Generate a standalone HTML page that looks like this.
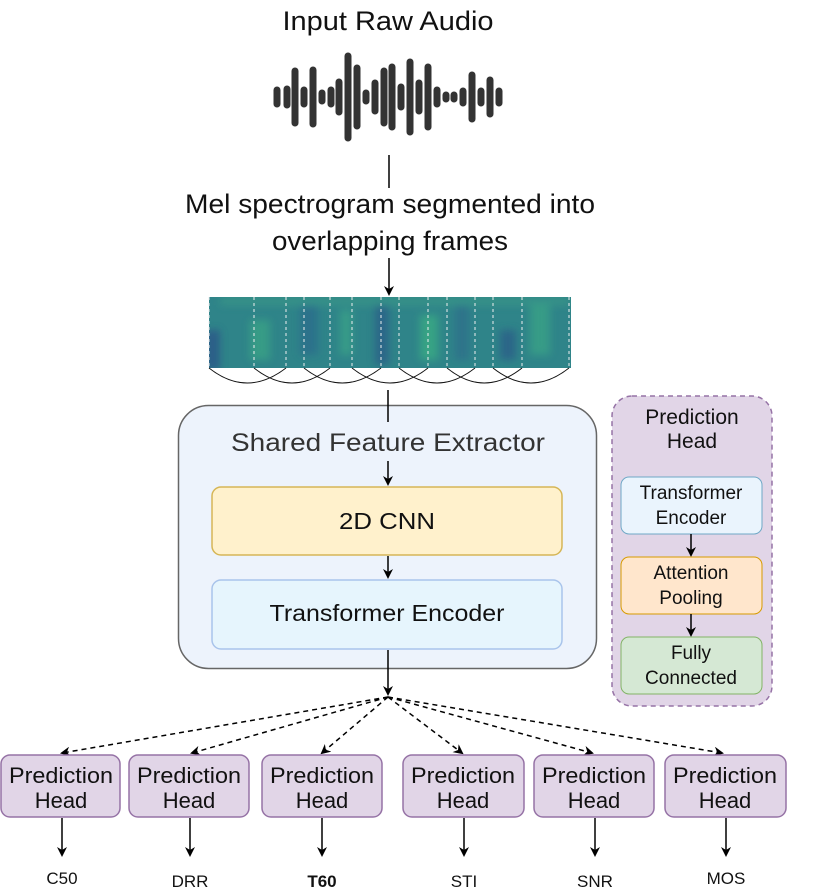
<!DOCTYPE html>
<html><head><meta charset="utf-8"><style>
html,body{margin:0;padding:0;background:#fff;}
svg{display:block;font-family:"Liberation Sans",sans-serif;}
</style></head><body>
<svg width="813" height="896" viewBox="0 0 813 896" xmlns="http://www.w3.org/2000/svg">
<defs>
<marker id="ah" markerWidth="10" markerHeight="10" refX="8" refY="5" orient="auto" markerUnits="userSpaceOnUse">
<path d="M0,0 L10,5 L0,10 L3,5 Z" fill="#000"/></marker>
<linearGradient id="sp" x1="0" y1="0" x2="0" y2="1">
<stop offset="0" stop-color="#2f8a8a"/><stop offset="0.5" stop-color="#2e7a8c"/><stop offset="1" stop-color="#319a88"/></linearGradient>
<filter id="bl"><feGaussianBlur stdDeviation="4"/></filter>
<clipPath id="sc"><rect x="209" y="297" width="362" height="71"/></clipPath>
</defs>
<text x="388" y="30" font-size="27" text-anchor="middle" textLength="211" lengthAdjust="spacingAndGlyphs" fill="#111">Input Raw Audio</text>
<g stroke="#333" stroke-linecap="round" stroke-width="7">
<line x1="277" y1="90" x2="277" y2="104"/><line x1="287" y1="89" x2="287" y2="105"/>
<line x1="295" y1="71" x2="295" y2="123"/><line x1="304" y1="90" x2="304" y2="104"/>
<line x1="313" y1="70" x2="313" y2="124"/><line x1="322" y1="93" x2="322" y2="101"/>
<line x1="331" y1="90" x2="331" y2="104"/><line x1="339" y1="82" x2="339" y2="112"/>
<line x1="348" y1="56" x2="348" y2="138"/><line x1="357" y1="68" x2="357" y2="126"/>
<line x1="366" y1="93" x2="366" y2="101"/><line x1="375" y1="83" x2="375" y2="111"/>
<line x1="384" y1="71" x2="384" y2="123"/><line x1="392" y1="67" x2="392" y2="127"/>
<line x1="401" y1="87" x2="401" y2="107"/><line x1="410" y1="62" x2="410" y2="132"/>
<line x1="419" y1="83" x2="419" y2="111"/><line x1="428" y1="67" x2="428" y2="127"/>
<line x1="437" y1="90" x2="437" y2="104"/><line x1="446" y1="95" x2="446" y2="99"/>
<line x1="454" y1="95" x2="454" y2="99"/><line x1="463" y1="91" x2="463" y2="103"/>
<line x1="472" y1="75" x2="472" y2="119"/><line x1="481" y1="91" x2="481" y2="103"/>
<line x1="490" y1="80" x2="490" y2="114"/><line x1="499" y1="91" x2="499" y2="103"/>
</g>
<line x1="389" y1="155" x2="389" y2="188" stroke="#000" stroke-width="1.5"/>
<text x="390" y="213" font-size="27" text-anchor="middle" textLength="410" lengthAdjust="spacingAndGlyphs" fill="#111">Mel spectrogram segmented into</text>
<text x="390" y="250" font-size="27" text-anchor="middle" textLength="236" lengthAdjust="spacingAndGlyphs" fill="#111">overlapping frames</text>
<line x1="389" y1="258" x2="389" y2="294" stroke="#000" stroke-width="1.5" marker-end="url(#ah)"/>
<rect x="209" y="297" width="362" height="71" fill="#2f8489"/>
<g clip-path="url(#sc)"><g opacity="0.7" filter="url(#bl)">
<rect x="205" y="330" width="15" height="40" fill="#2a4f88"/>
<rect x="250" y="320" width="20" height="40" fill="#3aa685"/>
<rect x="300" y="305" width="18" height="50" fill="#2c6a8c"/>
<rect x="340" y="310" width="12" height="45" fill="#3aa688"/>
<rect x="375" y="305" width="14" height="60" fill="#2b5a88"/>
<rect x="420" y="315" width="18" height="45" fill="#3bb083"/>
<rect x="455" y="300" width="14" height="60" fill="#2d6d8b"/>
<rect x="500" y="330" width="16" height="30" fill="#2a5a88"/>
<rect x="530" y="305" width="20" height="50" fill="#3aa686"/>
<rect x="220" y="297" width="350" height="8" fill="#3a9a88"/>
</g></g>
<g stroke="#eee" stroke-width="1" stroke-dasharray="3,3">
<line x1="209" y1="297" x2="209" y2="368"/><line x1="254" y1="297" x2="254" y2="368"/>
<line x1="286" y1="297" x2="286" y2="368"/><line x1="304" y1="297" x2="304" y2="368"/>
<line x1="330" y1="297" x2="330" y2="368"/><line x1="352" y1="297" x2="352" y2="368"/>
<line x1="381" y1="297" x2="381" y2="368"/><line x1="399" y1="297" x2="399" y2="368"/>
<line x1="428" y1="297" x2="428" y2="368"/><line x1="447" y1="297" x2="447" y2="368"/>
<line x1="475" y1="297" x2="475" y2="368"/><line x1="493" y1="297" x2="493" y2="368"/>
<line x1="522" y1="297" x2="522" y2="368"/><line x1="569" y1="297" x2="569" y2="368"/>
</g>
<g fill="none" stroke="#111" stroke-width="1">
<path d="M209,368 Q247,398 286,368"/><path d="M254,368 Q292,398 330,368"/>
<path d="M304,368 Q342,398 381,368"/><path d="M352,368 Q390,398 428,368"/>
<path d="M399,368 Q437,398 475,368"/><path d="M447,368 Q484,398 522,368"/>
<path d="M493,368 Q531,398 569,368"/>
</g>
<rect x="178.5" y="405.5" width="418" height="263" rx="30" fill="#edf3fc" stroke="#666" stroke-width="1.5"/>
<line x1="388" y1="390" x2="388" y2="422" stroke="#000" stroke-width="1.5"/>
<text x="388" y="451" font-size="25" text-anchor="middle" textLength="314" lengthAdjust="spacingAndGlyphs" fill="#333">Shared Feature Extractor</text>
<line x1="388" y1="461" x2="388" y2="484" stroke="#000" stroke-width="1.5" marker-end="url(#ah)"/>
<rect x="212" y="487" width="350" height="68" rx="9" fill="#fff1cc" stroke="#d6b656" stroke-width="1.5"/>
<text x="387" y="529" font-size="23" text-anchor="middle" textLength="96" lengthAdjust="spacingAndGlyphs" fill="#111">2D CNN</text>
<line x1="388" y1="556" x2="388" y2="577" stroke="#000" stroke-width="1.5" marker-end="url(#ah)"/>
<rect x="212" y="580" width="350" height="69" rx="9" fill="#e6f5fd" stroke="#a9c4eb" stroke-width="1.5"/>
<text x="387" y="621" font-size="23" text-anchor="middle" textLength="235" lengthAdjust="spacingAndGlyphs" fill="#111">Transformer Encoder</text>
<line x1="388" y1="650" x2="388" y2="694" stroke="#000" stroke-width="1.5" marker-end="url(#ah)"/>
<rect x="612" y="396" width="160" height="310" rx="20" fill="#e1d5e7" stroke="#9673a6" stroke-width="1.5" stroke-dasharray="5,4"/>
<text x="692" y="424" font-size="21" text-anchor="middle" fill="#111">Prediction</text>
<text x="692" y="448" font-size="21" text-anchor="middle" fill="#111">Head</text>
<rect x="621" y="477" width="141" height="57" rx="8" fill="#eaf4fd" stroke="#6fa8c6" stroke-width="1"/>
<text x="691" y="499" font-size="19" text-anchor="middle" fill="#111">Transformer</text>
<text x="691" y="524" font-size="19" text-anchor="middle" fill="#111">Encoder</text>
<line x1="691" y1="534" x2="691" y2="555" stroke="#000" stroke-width="1.5" marker-end="url(#ah)"/>
<rect x="621" y="557" width="141" height="57" rx="8" fill="#ffe6cc" stroke="#d79b00" stroke-width="1"/>
<text x="691" y="579" font-size="19" text-anchor="middle" fill="#111">Attention</text>
<text x="691" y="604" font-size="19" text-anchor="middle" fill="#111">Pooling</text>
<line x1="691" y1="614" x2="691" y2="635" stroke="#000" stroke-width="1.5" marker-end="url(#ah)"/>
<rect x="621" y="637" width="141" height="57" rx="8" fill="#d5e8d4" stroke="#82b366" stroke-width="1"/>
<text x="691" y="659" font-size="19" text-anchor="middle" fill="#111">Fully</text>
<text x="691" y="684" font-size="19" text-anchor="middle" fill="#111">Connected</text>
<g stroke="#000" stroke-width="1.5" stroke-dasharray="5,4" fill="none">
<line x1="388" y1="697" x2="62" y2="753" marker-end="url(#ah)"/>
<line x1="388" y1="697" x2="192" y2="753" marker-end="url(#ah)"/>
<line x1="388" y1="697" x2="322" y2="753" marker-end="url(#ah)"/>
<line x1="388" y1="697" x2="462" y2="753" marker-end="url(#ah)"/>
<line x1="388" y1="697" x2="592" y2="753" marker-end="url(#ah)"/>
<line x1="388" y1="697" x2="722" y2="753" marker-end="url(#ah)"/>
</g>
<g fill="#e1d5e7" stroke="#9673a6" stroke-width="1.5">
<rect x="1" y="755" width="119" height="62" rx="9"/>
<rect x="129" y="755" width="120" height="62" rx="9"/>
<rect x="262" y="755" width="120" height="62" rx="9"/>
<rect x="403" y="755" width="121" height="62" rx="9"/>
<rect x="534" y="755" width="120" height="62" rx="9"/>
<rect x="665" y="755" width="121" height="62" rx="9"/>
</g>
<g font-size="22" text-anchor="middle" fill="#111">
<text x="61" y="783" textLength="104" lengthAdjust="spacingAndGlyphs">Prediction</text><text x="61" y="808">Head</text>
<text x="189" y="783" textLength="104" lengthAdjust="spacingAndGlyphs">Prediction</text><text x="189" y="808">Head</text>
<text x="322" y="783" textLength="104" lengthAdjust="spacingAndGlyphs">Prediction</text><text x="322" y="808">Head</text>
<text x="463" y="783" textLength="104" lengthAdjust="spacingAndGlyphs">Prediction</text><text x="463" y="808">Head</text>
<text x="594" y="783" textLength="104" lengthAdjust="spacingAndGlyphs">Prediction</text><text x="594" y="808">Head</text>
<text x="725" y="783" textLength="104" lengthAdjust="spacingAndGlyphs">Prediction</text><text x="725" y="808">Head</text>
</g>
<g stroke="#000" stroke-width="1.5">
<line x1="62" y1="818" x2="62" y2="855" marker-end="url(#ah)"/>
<line x1="190" y1="818" x2="190" y2="855" marker-end="url(#ah)"/>
<line x1="322" y1="818" x2="322" y2="855" marker-end="url(#ah)"/>
<line x1="464" y1="818" x2="464" y2="855" marker-end="url(#ah)"/>
<line x1="595" y1="818" x2="595" y2="855" marker-end="url(#ah)"/>
<line x1="726" y1="818" x2="726" y2="855" marker-end="url(#ah)"/>
</g>
<g font-size="17" text-anchor="middle" fill="#111">
<text x="62" y="884">C50</text>
<text x="190" y="887">DRR</text>
<text x="322" y="887" font-weight="bold">T60</text>
<text x="464" y="887">STI</text>
<text x="595" y="887">SNR</text>
<text x="726" y="884">MOS</text>
</g>
</svg>
</body></html>
